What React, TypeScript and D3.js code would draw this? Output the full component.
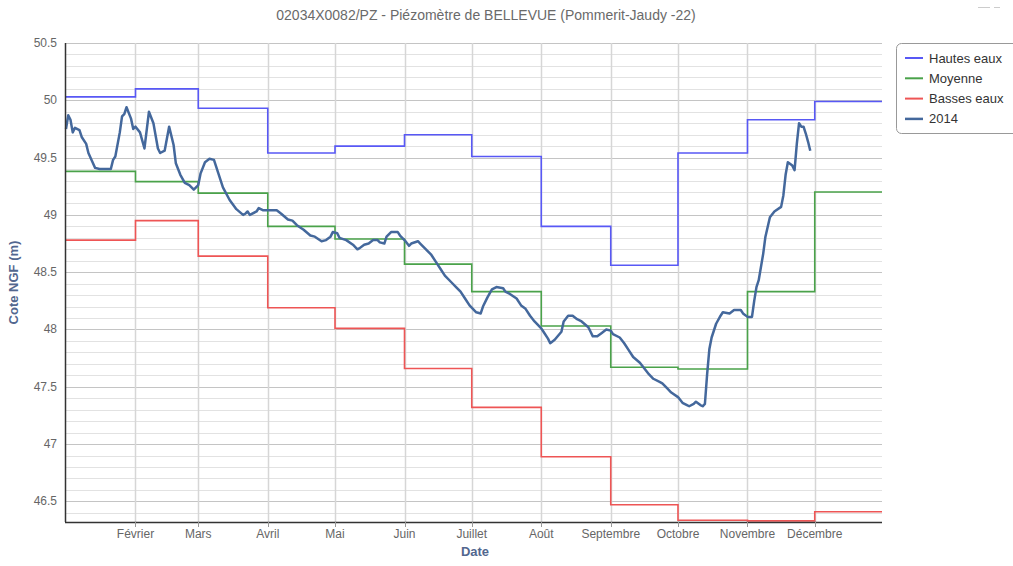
import { useEffect, useRef } from "react";
import * as d3 from "d3";

const MONTH_LABELS = ["Février", "Mars", "Avril", "Mai", "Juin", "Juillet", "Août", "Septembre", "Octobre", "Novembre", "Décembre"];
const Y_TICKS = [46.5, 47, 47.5, 48, 48.5, 49, 49.5, 50, 50.5];

// valeurs mensuelles (janvier -> décembre)
const HAUTES_EAUX = [50.03, 50.1, 49.93, 49.54, 49.6, 49.7, 49.51, 48.9, 48.56, 49.54, 49.83, 49.99];
const MOYENNE = [49.38, 49.29, 49.19, 48.9, 48.79, 48.57, 48.33, 48.03, 47.67, 47.655, 48.33, 49.2];
const BASSES_EAUX = [48.78, 48.95, 48.64, 48.19, 48.01, 47.66, 47.32, 46.89, 46.47, 46.335, 46.33, 46.41];

// chronique 2014
const OBS_DATES = [
  "01-01", "01-02", "01-03", "01-04", "01-05", "01-07", "01-08", "01-10", "01-11", "01-14",
  "01-16", "01-21", "01-22", "01-23", "01-25", "01-26", "01-27", "01-28", "01-30", "01-31",
  "02-01", "02-03", "02-05", "02-07", "02-09", "02-11", "02-12", "02-14", "02-16", "02-18",
  "02-19", "02-21", "02-23", "02-25", "02-27", "03-01", "03-02", "03-04", "03-06", "03-08",
  "03-10", "03-12", "03-15", "03-18", "03-21", "03-22", "03-23", "03-24", "03-27", "03-28",
  "03-30", "04-05", "04-07", "04-10", "04-12", "04-14", "04-17", "04-20", "04-22", "04-25",
  "04-27", "04-29", "04-30", "05-02", "05-03", "05-06", "05-09", "05-11", "05-12", "05-14",
  "05-16", "05-18", "05-20", "05-21", "05-23", "05-24", "05-26", "05-29", "05-30", "06-01",
  "06-03", "06-04", "06-07", "06-08", "06-10", "06-13", "06-15", "06-17", "06-19", "06-22",
  "06-24", "06-26", "06-28", "06-30", "07-03", "07-05", "07-06", "07-08", "07-10", "07-12",
  "07-15", "07-16", "07-18", "07-21", "07-23", "07-25", "07-27", "07-29", "08-01", "08-02",
  "08-04", "08-05", "08-07", "08-10", "08-11", "08-13", "08-15", "08-17", "08-19", "08-22",
  "08-23", "08-24", "08-26", "08-28", "08-30", "09-01", "09-02", "09-05", "09-07", "09-09",
  "09-11", "09-14", "09-16", "09-18", "09-20", "09-23", "09-24", "09-26", "09-28", "10-01",
  "10-03", "10-05", "10-06", "10-08", "10-09", "10-11", "10-12", "10-13", "10-14", "10-15",
  "10-16", "10-18", "10-20", "10-21", "10-24", "10-26", "10-29", "10-30", "11-01", "11-03",
  "11-04", "11-05", "11-06", "11-08", "11-09", "11-11", "11-13", "11-16", "11-17", "11-18",
  "11-19", "11-21", "11-22", "11-23", "11-24", "11-25", "11-26", "11-27", "11-28", "11-29",
];
const OBS_VALUES = [
  49.75, 49.87, 49.83, 49.72, 49.76, 49.74, 49.68, 49.62, 49.54, 49.41,
  49.4, 49.4, 49.48, 49.51, 49.72, 49.86, 49.88, 49.94, 49.84, 49.75,
  49.77, 49.72, 49.58, 49.9, 49.8, 49.58, 49.54, 49.56, 49.77, 49.61,
  49.45, 49.35, 49.28, 49.26, 49.22, 49.26, 49.36, 49.46, 49.49, 49.48,
  49.36, 49.24, 49.13, 49.05, 49.0, 49.01, 49.03, 49.0, 49.03, 49.06,
  49.04, 49.04, 49.01, 48.96, 48.95, 48.91, 48.87, 48.82, 48.81, 48.77,
  48.78, 48.81, 48.85, 48.84, 48.8, 48.78, 48.74, 48.7, 48.71, 48.74,
  48.75, 48.78, 48.78, 48.76, 48.75, 48.81, 48.85, 48.85, 48.82, 48.78,
  48.73, 48.75, 48.77, 48.75, 48.71, 48.65, 48.59, 48.53, 48.47, 48.41,
  48.37, 48.33, 48.27, 48.21, 48.15, 48.14, 48.2, 48.28, 48.35, 48.37,
  48.36, 48.33, 48.31, 48.27, 48.21, 48.18, 48.12, 48.07, 48.01, 47.98,
  47.92, 47.88, 47.91, 47.98, 48.07, 48.12, 48.12, 48.09, 48.07, 48.02,
  47.98, 47.94, 47.94, 47.97, 48.0, 47.99, 47.96, 47.93, 47.88, 47.82,
  47.76, 47.71, 47.66, 47.61, 47.57, 47.54, 47.53, 47.49, 47.45, 47.41,
  47.36, 47.34, 47.33, 47.35, 47.37, 47.34, 47.33, 47.35, 47.61, 47.83,
  47.93, 48.05, 48.12, 48.15, 48.14, 48.17, 48.17, 48.14, 48.11, 48.11,
  48.25, 48.37, 48.43, 48.66, 48.81, 48.98, 49.03, 49.07, 49.17, 49.35,
  49.46, 49.43, 49.39, 49.62, 49.8, 49.77, 49.77, 49.71, 49.64, 49.56,
];

const SERIES = [
  { name: "Hautes eaux", color: "#5858f5", values: HAUTES_EAUX },
  { name: "Moyenne", color: "#4aa24a", values: MOYENNE },
  { name: "Basses eaux", color: "#ee5555", values: BASSES_EAUX },
];
const OBS_COLOR = "#44689c";
const W = 1013;
const H = 566;
const FONT = "'Liberation Sans', Arial, sans-serif";

export default function App() {
  const ref = useRef<SVGSVGElement>(null);

  useEffect(() => {
    if (!ref.current) return;
    const m = { top: 43, right: 131, bottom: 44, left: 66 };
    const svg = d3.select(ref.current);
    svg.selectAll("*").remove();

    const x = d3
      .scaleTime()
      .domain([new Date(2014, 0, 1), new Date(2014, 11, 31)])
      .range([m.left, W - m.right]);
    const y = d3.scaleLinear().domain([46.32, 50.5]).range([H - m.bottom, m.top]);

    svg.append("rect").attr("width", W).attr("height", H).attr("fill", "#fff");

    // grille horizontale (pas de 0.1)
    const minor = d3.range(464, 506).map((v) => v / 10);
    svg
      .append("g")
      .selectAll("line")
      .data(minor)
      .join("line")
      .attr("x1", m.left)
      .attr("x2", W - m.right)
      .attr("y1", (d) => Math.round(y(d)) + 0.5)
      .attr("y2", (d) => Math.round(y(d)) + 0.5)
      .attr("stroke", (d) => (Math.abs(d * 2 - Math.round(d * 2)) < 1e-6 ? "#c4c4c4" : "#e2e2e2"))
      .attr("stroke-width", 1);

    // grille verticale (mois)
    const months = d3.range(1, 12).map((i) => new Date(2014, i, 1));
    svg
      .append("g")
      .selectAll("line")
      .data(months)
      .join("line")
      .attr("x1", (d) => Math.round(x(d)) + 0.5)
      .attr("x2", (d) => Math.round(x(d)) + 0.5)
      .attr("y1", m.top)
      .attr("y2", H - m.bottom)
      .attr("stroke", "#d6d6d6")
      .attr("stroke-width", 1.5);

    // séries mensuelles en escalier
    const stepLine = d3
      .line<{ d: Date; v: number }>()
      .x((p) => x(p.d))
      .y((p) => y(p.v))
      .curve(d3.curveStepAfter);
    SERIES.forEach((s) => {
      const pts = s.values.map((v, i) => ({ d: new Date(2014, i, 1), v }));
      pts.push({ d: new Date(2014, 11, 31), v: s.values[11] });
      svg
        .append("path")
        .attr("d", stepLine(pts))
        .attr("fill", "none")
        .attr("stroke", s.color)
        .attr("stroke-width", 1.6);
    });

    // chronique 2014
    const obs = OBS_DATES.map((md, i) => {
      const [mo, da] = md.split("-").map(Number);
      return { d: new Date(2014, mo - 1, da), v: OBS_VALUES[i] };
    });
    const line = d3
      .line<{ d: Date; v: number }>()
      .x((p) => x(p.d))
      .y((p) => y(p.v));
    svg
      .append("path")
      .attr("d", line(obs))
      .attr("fill", "none")
      .attr("stroke", OBS_COLOR)
      .attr("stroke-width", 2.5)
      .attr("stroke-linejoin", "round");

    // axes
    svg
      .append("line")
      .attr("x1", m.left - 0.5)
      .attr("x2", m.left - 0.5)
      .attr("y1", m.top)
      .attr("y2", H - m.bottom)
      .attr("stroke", "#333")
      .attr("stroke-width", 1.5);
    svg
      .append("line")
      .attr("x1", m.left - 1)
      .attr("x2", W - m.right)
      .attr("y1", H - m.bottom + 0.5)
      .attr("y2", H - m.bottom + 0.5)
      .attr("stroke", "#333")
      .attr("stroke-width", 1.5);

    svg
      .append("g")
      .selectAll("line")
      .data(months)
      .join("line")
      .attr("x1", (d) => Math.round(x(d)) + 0.5)
      .attr("x2", (d) => Math.round(x(d)) + 0.5)
      .attr("y1", H - m.bottom)
      .attr("y2", H - m.bottom + 5)
      .attr("stroke", "#999");

    svg
      .append("g")
      .selectAll("text")
      .data(months)
      .join("text")
      .attr("x", (d) => x(d))
      .attr("y", H - m.bottom + 16)
      .attr("text-anchor", "middle")
      .attr("font-family", FONT)
      .attr("font-size", 12)
      .attr("fill", "#666")
      .text((_, i) => MONTH_LABELS[i]);

    svg
      .append("g")
      .selectAll("text")
      .data(Y_TICKS)
      .join("text")
      .attr("x", m.left - 9)
      .attr("y", (d) => y(d) + 4)
      .attr("text-anchor", "end")
      .attr("font-family", FONT)
      .attr("font-size", 12)
      .attr("fill", "#666")
      .text((d) => String(d));

    // titres
    svg
      .append("text")
      .attr("x", 486)
      .attr("y", 20)
      .attr("text-anchor", "middle")
      .attr("font-family", FONT)
      .attr("font-size", 14)
      .attr("fill", "#6a6a6a")
      .text("02034X0082/PZ - Piézomètre de BELLEVUE (Pommerit-Jaudy -22)");
    svg
      .append("text")
      .attr("x", 475)
      .attr("y", H - 10)
      .attr("text-anchor", "middle")
      .attr("font-family", FONT)
      .attr("font-size", 13)
      .attr("font-weight", "bold")
      .attr("fill", "#52678f")
      .text("Date");
    svg
      .append("text")
      .attr("transform", `translate(18,${(m.top + H - m.bottom) / 2}) rotate(-90)`)
      .attr("text-anchor", "middle")
      .attr("font-family", FONT)
      .attr("font-size", 13)
      .attr("font-weight", "bold")
      .attr("fill", "#52678f")
      .text("Cote NGF (m)");

    // petit bouton en haut à droite
    svg.append("line").attr("x1", 978).attr("x2", 990).attr("y1", 7.5).attr("y2", 7.5).attr("stroke", "#ccc");
    svg.append("line").attr("x1", 994).attr("x2", 1000).attr("y1", 7.5).attr("y2", 7.5).attr("stroke", "#ccc");

    // légende
    const lg = svg.append("g").attr("transform", "translate(896,43)");
    lg.append("rect")
      .attr("x", 0.5)
      .attr("y", 0.5)
      .attr("width", 130)
      .attr("height", 90)
      .attr("rx", 5)
      .attr("fill", "#fff")
      .attr("stroke", "#999");
    const items = [...SERIES.map((s) => ({ name: s.name, color: s.color })), { name: "2014", color: OBS_COLOR }];
    items.forEach((it, i) => {
      const cy = 15 + i * 20.3;
      lg.append("line")
        .attr("x1", 9)
        .attr("x2", 27)
        .attr("y1", cy)
        .attr("y2", cy)
        .attr("stroke", it.color)
        .attr("stroke-width", i === 3 ? 2.5 : 2);
      lg.append("text")
        .attr("x", 33)
        .attr("y", cy + 4.5)
        .attr("font-family", FONT)
        .attr("font-size", 13)
        .attr("fill", "#333")
        .text(it.name);
    });
  }, []);

  return (
    <svg
      ref={ref}
      width={W}
      height={H}
      style={{ position: "absolute", left: 0, top: 0, display: "block" }}
    />
  );
}
